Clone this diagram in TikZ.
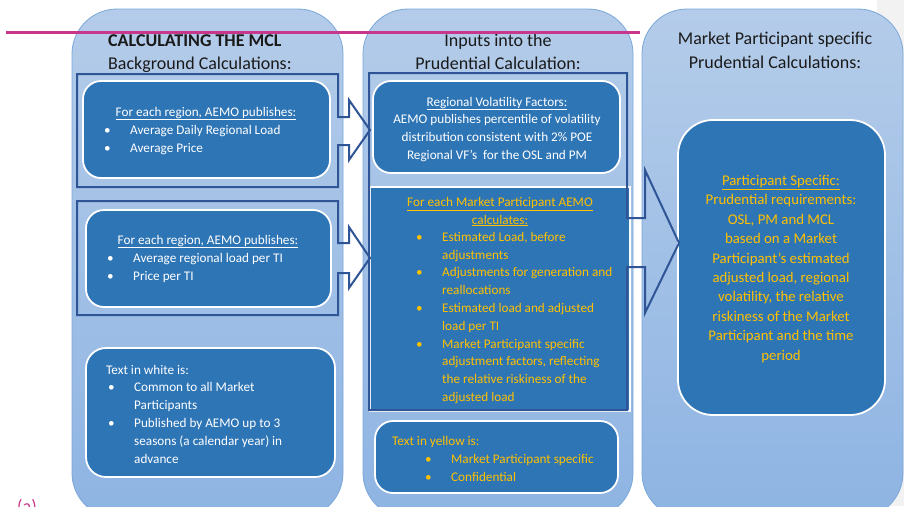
\documentclass[tikz,border=0pt]{standalone}
\usepackage{fontspec}
\setmainfont{Carlito}
\definecolor{coltop}{HTML}{B4CCE9}
\definecolor{colbot}{HTML}{8EB4E3}
\definecolor{colline}{HTML}{7AA7DA}
\definecolor{boxblue}{HTML}{2E75B6}
\definecolor{framecol}{HTML}{2F5597}
\definecolor{ylw}{HTML}{FFC000}
\definecolor{magentaline}{HTML}{C8378C}
\definecolor{txt}{HTML}{1A1A1A}
\newcommand\bitem[1]{\makebox[26pt][l]{\textbullet}#1}
\newcommand\bcont[1]{\hspace*{26pt}#1}
\begin{document}
\begin{tikzpicture}[x=1pt,y=-1pt,
  col/.style={draw=colline, line width=0.8pt, rounded corners=45pt, top color=coltop, bottom color=colbot},
  ibox/.style={draw=white, line width=1.8pt, fill=boxblue, rounded corners=18pt},
  framebox/.style={draw=framecol, line width=2pt, line join=miter},
  title/.style={font=\fontsize{18}{23}\selectfont, text=txt, inner sep=0pt},
  body/.style={font=\fontsize{13.2}{17.8}\selectfont, inner sep=0pt, align=left},
  bodyc/.style={font=\fontsize{13.2}{17.8}\selectfont, inner sep=0pt, align=center},
  wtxt/.style={text=white},
  ytxt/.style={text=ylw}]
\useasboundingbox (0,0) rectangle (904,506);
\clip (0,0) rectangle (904,506);
% background strip
\fill[gray!10] (877,0) rectangle (904,506);
% columns
\path[col] (72,9) rectangle (343,518);
\path[col] (363,9) rectangle (633,518);
\path[col] (642,9) rectangle (903,518);
% middle big rectangle
\path[draw=white, line width=1.5pt, fill=boxblue] (370,187) rectangle (630,411);
% inner boxes
\path[ibox] (83,81) rectangle (330,178);
\path[ibox] (86,210) rectangle (331,307);
\path[ibox, rounded corners=20pt] (86,348) rectangle (335,477);
\path[ibox] (373,81) rectangle (620,173);
\path[ibox] (375,421) rectangle (618,493);
\path[ibox, rounded corners=35pt] (678,120) rectangle (885,415);
% frames with block arrows
\draw[framebox] (77,74) -- (338,74) -- (338,117) -- (349,117) -- (349,100) -- (370,130) -- (349,160) -- (349,145) -- (338,145) -- (338,187) -- (77,187) -- cycle;
\draw[framebox] (77,201) -- (338,201) -- (338,243) -- (349,243) -- (349,227) -- (370,258) -- (349,288) -- (349,273) -- (338,273) -- (338,315) -- (77,315) -- cycle;
\draw[framebox] (369,73) -- (627,73) -- (627,218) -- (645,218) -- (645,170) -- (679,243) -- (645,313) -- (645,267) -- (627,267) -- (627,410) -- (369,410) -- cycle;
% titles
\node[title, anchor=base west, font=\fontsize{18}{23}\selectfont\bfseries] (t1a) at (108,46) {CALCULATING THE MCL};
\node[title, anchor=base west] (t1b) at (108,69) {Background Calculations:};
\node[title, anchor=base] (t2a) at (498,46) {Inputs into the};
\node[title, anchor=base] (t2b) at (498,69) {Prudential Calculation:};
\node[title, anchor=base] (t3a) at (775,44) {Market Participant specific};
\node[title, anchor=base] (t3b) at (775,68) {Prudential Calculations:};
% left box 1 (multi-line nodes: base = last line)
\node[bodyc, wtxt, anchor=base] (l1h) at (206,116) {\underline{For each region, AEMO publishes:}};
\node[body, wtxt, anchor=base west] (l1l) at (104,152) {\bitem{Average Daily Regional Load}\\\bitem{Average Price}};
% left box 2
\node[bodyc, wtxt, anchor=base] (l2h) at (208,244) {\underline{For each region, AEMO publishes:}};
\node[body, wtxt, anchor=base west] (l2l) at (107,280) {\bitem{Average regional load per TI}\\\bitem{Price per TI}};
% left box 3
\node[body, wtxt, anchor=base west] (l3) at (106,463) {Text in white is:\\
 \hspace*{2pt}\bitem{Common to all Market}\\
 \hspace*{2pt}\bcont{Participants}\\
 \hspace*{2pt}\bitem{Published by AEMO up to 3}\\
 \hspace*{2pt}\bcont{seasons (a calendar year) in}\\
 \hspace*{2pt}\bcont{advance}};
% middle box 1
\node[bodyc, wtxt, anchor=base] (m1) at (497,159.4) {\underline{Regional Volatility Factors:}\\
 AEMO publishes percentile of volatility\\
 distribution consistent with 2\% POE\\
 Regional VF’s\ \ for the OSL and PM};
% middle big box
\node[bodyc, ytxt, anchor=base] (m2h) at (500,224) {\underline{For each Market Participant AEMO}\\\underline{calculates:}};
\node[body, ytxt, anchor=base west] (m2l) at (416,401.5) {\bitem{Estimated Load, before}\\
 \bcont{adjustments}\\
 \bitem{Adjustments for generation and}\\
 \bcont{reallocations}\\
 \bitem{Estimated load and adjusted}\\
 \bcont{load per TI}\\
 \bitem{Market Participant specific}\\
 \bcont{adjustment factors, reflecting}\\
 \bcont{the relative riskiness of the}\\
 \bcont{adjusted load}};
% middle bottom box
\node[body, ytxt, anchor=base west] (m3) at (392,481) {Text in yellow is:\\
 \hspace*{33pt}\bitem{Market Participant specific}\\
 \hspace*{33pt}\bitem{Confidential}};
% right box
\node[bodyc, ytxt, anchor=base, font=\fontsize{14.8}{19.4}\selectfont] (r1) at (781,360) {\underline{Participant Specific:}\\
 Prudential requirements:\\
 OSL, PM and MCL\\
 based on a Market\\
 Participant’s estimated\\
 adjusted load, regional\\
 volatility, the relative\\
 riskiness of the Market\\
 Participant and the time\\
 period};
% magenta line and label
\draw[magentaline, line width=3pt] (6,32) -- (640,32);
\node[text=magentaline, font=\fontsize{18}{19}\selectfont, inner sep=0pt, anchor=base] (lbl) at (27,512) {(a)};
\end{tikzpicture}
\end{document}
